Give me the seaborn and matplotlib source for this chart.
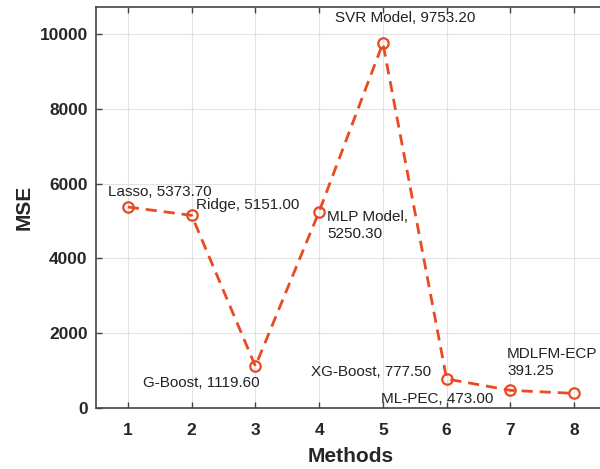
import pandas as pd
import seaborn as sns
import matplotlib.pyplot as plt

# Data
methods = [1, 2, 3, 4, 5, 6, 7, 8]
mse = [5373.70, 5151.00, 1119.60, 5250.30, 9753.20, 777.50, 473.00, 391.25]
labels = ["Lasso, 5373.70", "Ridge, 5151.00", "G-Boost, 1119.60", "MLP Model,\n5250.30",
          "SVR Model, 9753.20", "XG-Boost, 777.50", "ML-PEC, 473.00", "MDLFM-ECP\n391.25"]

# label offsets in pixels relative to each point (dx, dy, va)
offsets = [(-20, 15, "center"), (4, 10, "center"), (-112, -17, "center"), (8, 2, "top"),
           (-48, 25, "center"), (-136, 7, "center"), (-129, -9, "center"), (-67, 31, "center")]

df = pd.DataFrame({"Methods": methods, "MSE": mse})

sns.set_style("ticks")
plt.rcParams["font.family"] = ["Liberation Sans", "DejaVu Sans"]

fig = plt.figure(figsize=(6, 4.69), dpi=100)
ax = fig.add_axes([0.16, 0.130, 0.85, 0.855])

color = "#EA4A22"
sns.lineplot(data=df, x="Methods", y="MSE", ax=ax, color=color, linewidth=2,
             linestyle=(0, (4, 2.5)), marker="o", markersize=7.5,
             markerfacecolor="none", markeredgecolor=color, markeredgewidth=1.6)

for x, y, lab, (dx, dy, va) in zip(methods, mse, labels, offsets):
    ax.annotate(lab, (x, y), xytext=(dx, dy), textcoords="offset pixels",
                ha="left", va=va, fontsize=11, color="#222222", linespacing=1.3)

ax.set_xlim(0.5, 8.5)
ax.set_ylim(0, 10720)
ax.set_xticks(methods)
ax.set_yticks([0, 2000, 4000, 6000, 8000, 10000])
ax.grid(True, color="#e2e2e2", linewidth=0.8)
ax.tick_params(direction="in", top=True, right=True, length=4, width=1,
               labelsize=12.5, color="#444444")
ax.tick_params(axis="x", pad=11)
ax.tick_params(axis="y", pad=6)
for t in ax.get_xticklabels() + ax.get_yticklabels():
    t.set_fontweight("bold")
for s in ax.spines.values():
    s.set_color("#444444")
    s.set_linewidth(1.2)
ax.set_xlabel("Methods", fontsize=15, fontweight="bold", labelpad=6)
ax.set_ylabel("MSE", fontsize=15, fontweight="bold", labelpad=4)

fig.savefig("out.png", dpi=100)
